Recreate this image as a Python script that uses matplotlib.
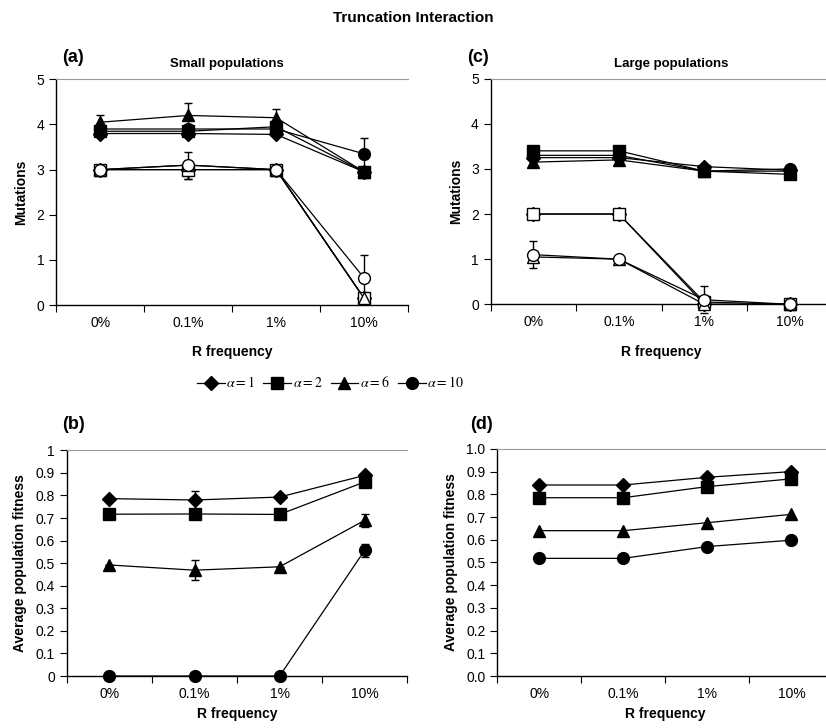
import matplotlib.pyplot as plt
import numpy as np

plt.rcParams['font.family'] = ['Liberation Sans', 'DejaVu Sans']
plt.rcParams['mathtext.fontset'] = 'stix'

freq_labels = ['0%', '0.1%', '1%', '10%']
alphas = [1, 2, 6, 10]
markers = ['D', 's', '^', 'o']
msizes = [7, 8, 9, 8.5]

# (a) small populations, mutations (filled = one treatment, open = other)
small_mut_a1 = [3.80, 3.80, 3.78, 2.95]
small_mut_a2 = [3.85, 3.85, 3.95, 2.95]
small_mut_a6 = [4.05, 4.20, 4.15, 2.95]
small_mut_a10 = [3.90, 3.90, 3.90, 3.35]
small_mut_err_a6 = [0.15, 0.27, 0.20, 0.0]
small_mut_err_a10 = [0.0, 0.0, 0.0, 0.35]
small_open_a1 = [3.0, 3.0, 3.0, 0.15]
small_open_a2 = [3.0, 3.0, 3.0, 0.15]
small_open_a6 = [3.0, 3.1, 3.0, 0.15]
small_open_a10 = [3.0, 3.1, 3.0, 0.60]
small_open_err_a2 = [0.0, 0.20, 0.0, 0.0]
small_open_err_a10 = [0.0, 0.30, 0.0, 0.50]

# (c) large populations, mutations
large_mut_a1 = [3.25, 3.25, 3.05, 2.97]
large_mut_a2 = [3.40, 3.40, 2.95, 2.88]
large_mut_a6 = [3.15, 3.20, 2.95, 2.95]
large_mut_a10 = [3.30, 3.30, 2.95, 3.00]
large_open_a1 = [2.0, 2.0, 0.0, 0.0]
large_open_a2 = [2.0, 2.0, 0.05, 0.0]
large_open_a6 = [1.05, 1.0, 0.0, 0.0]
large_open_a10 = [1.10, 1.0, 0.10, 0.0]
large_open_err_a10 = [0.30, 0.0, 0.30, 0.0]

# (b) small populations, average fitness
small_fit_a1 = [0.786, 0.780, 0.793, 0.889]
small_fit_a2 = [0.717, 0.718, 0.716, 0.860]
small_fit_a6 = [0.492, 0.469, 0.484, 0.690]
small_fit_a10 = [0.0, 0.0, 0.0, 0.557]
small_fit_err_a1 = [0.0, 0.04, 0.0, 0.01]
small_fit_err_a6 = [0.0, 0.045, 0.0, 0.03]
small_fit_err_a10 = [0.0, 0.0, 0.0, 0.03]

# (d) large populations, average fitness
large_fit_a1 = [0.841, 0.841, 0.875, 0.900]
large_fit_a2 = [0.785, 0.785, 0.834, 0.868]
large_fit_a6 = [0.640, 0.640, 0.675, 0.712]
large_fit_a10 = [0.518, 0.518, 0.570, 0.598]

x = np.arange(len(freq_labels))

fig = plt.figure(figsize=(8.26, 7.28), dpi=100)
ax_a = fig.add_axes([0.068, 0.581, 0.426, 0.310])
ax_c = fig.add_axes([0.594, 0.582, 0.414, 0.310])
ax_b = fig.add_axes([0.081, 0.0714, 0.412, 0.310])
ax_d = fig.add_axes([0.602, 0.0714, 0.407, 0.312])


def style_axes(ax, ymax, yticks, ylabels, ylabel, xlabelpad=4):
    ax.set_xlim(-0.5, 3.5)
    ax.set_ylim(0, ymax)
    ax.set_xticks(np.arange(-0.5, 3.6, 1.0))
    ax.set_xticks(x, minor=True)
    ax.set_xticklabels([])
    ax.set_xticklabels(freq_labels, minor=True)
    ax.tick_params(axis='x', which='major', direction='out', length=5, width=0.8)
    ax.tick_params(axis='x', which='minor', length=0, labelsize=10, pad=8)
    ax.set_yticks(yticks)
    ax.set_yticklabels(ylabels)
    ax.tick_params(axis='y', direction='out', length=5, width=0.8, labelsize=10)
    ax.spines['right'].set_visible(False)
    ax.spines['top'].set_color('#999999')
    ax.spines['left'].set_linewidth(1.0)
    ax.spines['bottom'].set_linewidth(1.0)
    ax.set_xlabel('R frequency', fontsize=10, fontweight='bold', labelpad=xlabelpad)
    ax.set_ylabel(ylabel, fontsize=10, fontweight='bold', labelpad=6)


def draw(ax, series, errs, filled=True):
    handles = []
    for vals, err, m, ms in zip(series, errs, markers, msizes):
        fc = 'black' if filled else 'white'
        h, = ax.plot(x, vals, color='black', lw=0.9, marker=m, ms=ms,
                     mfc=fc, mec='black', mew=1.0, zorder=3)
        if err is not None:
            ax.errorbar(x, vals, yerr=err, fmt='none', ecolor='black',
                        elinewidth=1.0, capsize=3, capthick=1.0, zorder=2)
        handles.append(h)
    return handles


# (a)
draw(ax_a, [small_open_a1, small_open_a2, small_open_a6, small_open_a10],
     [None, small_open_err_a2, None, small_open_err_a10], filled=False)
draw(ax_a, [small_mut_a1, small_mut_a2, small_mut_a6, small_mut_a10],
     [None, None, small_mut_err_a6, small_mut_err_a10])
style_axes(ax_a, 5, range(6), [str(i) for i in range(6)], 'Mutations', xlabelpad=11)

# (c)
draw(ax_c, [large_open_a1, large_open_a2, large_open_a6, large_open_a10],
     [None, None, None, large_open_err_a10], filled=False)
draw(ax_c, [large_mut_a1, large_mut_a2, large_mut_a6, large_mut_a10],
     [None, None, None, None])
style_axes(ax_c, 5, range(6), [str(i) for i in range(6)], 'Mutations', xlabelpad=11)

# (b)
handles = draw(ax_b, [small_fit_a1, small_fit_a2, small_fit_a6, small_fit_a10],
               [small_fit_err_a1, None, small_fit_err_a6, small_fit_err_a10])
bt = np.round(np.arange(0, 1.01, 0.1), 1)
style_axes(ax_b, 1, bt, ['0'] + [f'{v:g}' for v in bt[1:-1]] + ['1'],
           'Average population fitness')

# (d)
draw(ax_d, [large_fit_a1, large_fit_a2, large_fit_a6, large_fit_a10],
     [None, None, None, None])
style_axes(ax_d, 1, bt, [f'{v:.1f}' for v in bt], 'Average population fitness')

for ax in (ax_a, ax_b, ax_c, ax_d):
    for line in ax.lines:
        line.set_clip_on(False)

fig.text(0.5, 0.975, 'Truncation Interaction', ha='center', va='center',
         fontsize=11, fontweight='bold')
fig.text(0.275, 0.912, 'Small populations', ha='center', va='center',
         fontsize=9.5, fontweight='bold')
fig.text(0.812, 0.912, 'Large populations', ha='center', va='center',
         fontsize=9.5, fontweight='bold')
fig.text(0.075, 0.921, '(a)', fontsize=13, fontweight='bold', ha='left', va='center')
fig.text(0.566, 0.921, '(c)', fontsize=13, fontweight='bold', ha='left', va='center')
fig.text(0.075, 0.417, '(b)', fontsize=13, fontweight='bold', ha='left', va='center')
fig.text(0.569, 0.417, '(d)', fontsize=13, fontweight='bold', ha='left', va='center')

fig.legend(handles, [rf'$\alpha = {a}$' for a in alphas], loc='center',
           bbox_to_anchor=(0.40, 0.474), ncol=4, frameon=False,
           handlelength=2.0, handletextpad=0.1, columnspacing=0.6,
           prop={'size': 10})

fig.savefig('out.png', dpi=100)
